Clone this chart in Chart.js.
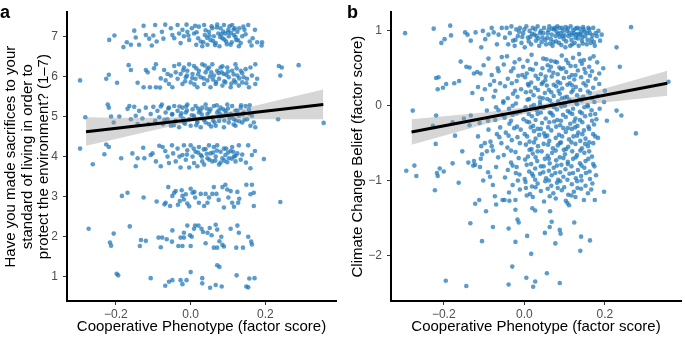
<!DOCTYPE html>
<html>
<head>
<meta charset="utf-8">
<script src="https://cdn.jsdelivr.net/npm/chart.js@4.4.1/dist/chart.umd.min.js"></script>
<style>
html, body { margin: 0; padding: 0; background: #fff; }
#wrap { position: relative; width: 685px; height: 339px; overflow: hidden; }
.panel { position: absolute; top: 0; height: 339px; }
#pa { left: 0; width: 342px; }
#pb { left: 342px; width: 343px; }
.tag { position: absolute; top: 3px; font: bold 18px/18px "Liberation Sans", Arial, sans-serif; color: #000; }
</style>
</head>
<body>
<div id="wrap">
  <div class="panel" id="pa"><canvas id="chartA"></canvas></div>
  <div class="panel" id="pb"><canvas id="chartB"></canvas></div>
  <div class="tag" style="left:0px">a</div>
  <div class="tag" style="left:347px">b</div>
</div>
<script>
// ---- panel a: sacrifice rating (1-7, jittered) vs phenotype ----
const sac7 = [[-0.218,6.91],[-0.204,7.02],[-0.18,6.73],[-0.171,6.85],[-0.16,6.79],[-0.151,7.14],[-0.147,6.97],[-0.138,6.79],[-0.126,7.26],[-0.12,7.03],[-0.111,6.94],[-0.104,6.77],[-0.1,7.02],[-0.095,7.28],[-0.091,6.87],[-0.077,7.11],[-0.073,6.94],[-0.068,7.29],[-0.053,7.2],[-0.049,7.03],[-0.044,6.95],[-0.035,7.28],[-0.031,7.07],[-0.027,6.83],[-0.022,7.16],[-0.018,7.0],[-0.011,7.29],[-0.009,7.11],[-0.004,6.91],[0.003,7.2],[0.009,7.07],[0.012,7.26],[0.015,6.79],[0.022,7.24],[0.027,6.87],[0.031,6.75],[0.036,7.28],[0.038,7.03],[0.045,6.79],[0.049,7.11],[0.053,6.91],[0.058,7.2],[0.062,7.0],[0.067,6.83],[0.071,7.29],[0.074,7.07],[0.077,6.75],[0.08,7.2],[0.085,6.95],[0.089,7.28],[0.092,7.07],[0.095,6.87],[0.101,7.16],[0.102,7.0],[0.107,6.79],[0.111,7.28],[0.116,7.03],[0.118,7.2],[0.122,6.91],[0.125,7.11],[0.129,6.75],[0.134,6.83],[0.138,7.0],[0.144,7.16],[0.147,7.05],[0.154,7.28],[0.158,6.87],[0.163,6.77],[0.166,6.95],[0.172,7.16],[0.178,6.85],[0.191,6.85],[0.19,6.77],[0.04,7.15],[0.06,6.88],[0.07,7.22],[0.09,6.92],[0.1,7.1],[0.12,6.98],[0.082,7.05],[0.05,7.02],[0.11,6.85],[0.13,7.2],[0.02,6.95],[0.104,7.25],[0.065,6.78],[0.087,7.12],[0.115,7.17],
  [0.034,6.85],[0.056,7.25],[0.079,6.98],[0.097,6.8],[0.108,7.08],[0.127,6.9],[0.141,7.24],[0.016,7.1],[-0.006,7.02],[0.044,6.96]];
const sac6 = [[-0.296,5.9],[-0.226,5.94],[-0.219,6.04],[-0.197,5.84],[-0.166,6.28],[-0.16,6.16],[-0.142,5.84],[-0.126,5.73],[-0.12,6.16],[-0.115,6.1],[-0.109,5.73],[-0.098,6.2],[-0.093,6.3],[-0.093,5.73],[-0.082,5.72],[-0.08,5.95],[-0.071,6.16],[-0.067,5.9],[-0.062,6.06],[-0.058,5.81],[-0.053,6.02],[-0.049,5.73],[-0.044,6.26],[-0.04,6.1],[-0.035,5.94],[-0.031,6.3],[-0.027,6.06],[-0.022,5.81],[-0.018,6.22],[-0.013,5.98],[-0.009,6.14],[-0.004,6.3],[0,5.85],[0.005,6.06],[0.009,6.26],[0.013,5.94],[0.018,5.73],[0.022,6.14],[0.027,5.98],[0.031,6.3],[0.036,5.81],[0.04,6.1],[0.045,5.9],[0.049,6.22],[0.053,5.73],[0.058,6.3],[0.062,6.02],[0.067,5.81],[0.071,6.14],[0.076,5.94],[0.08,6.22],[0.085,5.77],[0.089,6.06],[0.093,5.85],[0.098,6.22],[0.102,5.98],[0.107,5.73],[0.111,6.14],[0.116,5.9],[0.12,6.3],[0.125,6.02],[0.129,5.77],[0.134,6.14],[0.138,5.85],[0.142,5.98],[0.147,6.18],[0.151,5.94],[0.156,5.73],[0.16,6.22],[0.164,6.02],[0.173,6.3],[0.178,5.94],[0.173,5.81],[0.236,6.26],[0.244,6.22],[0.24,6.02],[0.289,6.28],[0.02,6.05],[0.045,6.18],[0.06,5.92],[0.075,6.08],[0.09,5.88],[0.1,6.12],[0.115,6.05],[0.13,5.95],[0.01,5.8],[-0.01,6.02],[0.035,5.95],[0.085,6.25],[0.055,6.1],[0.12,5.85],[-0.02,6.15],
  [0.015,6.2],[0.038,6.27],[0.052,6.0],[0.068,5.86],[0.083,6.1],[0.096,6.04],[0.109,5.82],[0.123,6.2],[0.138,6.08],[0.149,5.83],[-0.015,5.88],[0.004,5.96]];
const sac5 = [[-0.282,4.98],[-0.222,5.3],[-0.219,5.22],[-0.213,5.0],[-0.206,4.85],[-0.191,5.0],[-0.169,5.19],[-0.164,5.26],[-0.16,4.93],[-0.151,5.24],[-0.147,5.02],[-0.142,4.81],[-0.138,5.14],[-0.129,4.95],[-0.12,5.22],[-0.113,4.81],[-0.107,5.06],[-0.1,5.24],[-0.095,4.89],[-0.089,5.14],[-0.084,4.98],[-0.077,5.3],[-0.074,4.81],[-0.067,5.1],[-0.062,4.93],[-0.058,5.22],[-0.053,4.77],[-0.049,5.06],[-0.044,5.26],[-0.04,4.89],[-0.035,5.14],[-0.031,4.73],[-0.027,5.02],[-0.022,5.22],[-0.018,4.85],[-0.013,5.1],[-0.009,5.3],[-0.004,4.93],[0,4.77],[0.005,5.18],[0.009,5.02],[0.013,5.26],[0.018,4.85],[0.022,5.1],[0.027,4.73],[0.031,5.22],[0.036,4.93],[0.04,5.3],[0.045,5.06],[0.049,4.81],[0.053,5.18],[0.058,4.98],[0.062,5.26],[0.067,4.77],[0.071,5.1],[0.076,4.89],[0.08,5.22],[0.085,5.02],[0.089,4.73],[0.093,5.14],[0.098,5.3],[0.102,4.85],[0.107,5.06],[0.111,5.26],[0.116,4.93],[0.12,4.77],[0.125,5.14],[0.129,5.02],[0.134,5.22],[0.138,4.85],[0.142,5.1],[0.147,5.26],[0.151,4.93],[0.156,5.18],[0.16,4.77],[0.164,5.02],[0.169,4.85],[0.173,4.73],[0.234,4.93],[0.356,4.84],[0.01,4.95],[0.02,5.2],[0.03,5.05],[0.04,4.85],[0.05,5.12],[0.06,4.9],[0.07,5.28],[0.08,5.0],[0.09,4.9],[0.1,5.2],[0.11,5.0],[0.12,5.15],[0.13,4.88],[0.14,5.05],[-0.01,5.15],[-0.02,4.95],[-0.03,5.25],[-0.04,4.88],[-0.05,5.05],[-0.06,5.2],[-0.07,4.92],[-0.08,5.25],[0.015,4.78],[0.055,4.75],[0.095,5.08],[0.115,4.8],[0.135,5.28],[0.075,5.15],[0.035,4.92],[-0.015,4.82],
  [0.003,5.03],[0.017,4.9],[0.026,5.14],[0.043,5.2],[0.064,4.85],[0.078,5.06],[0.087,5.18],[0.104,4.95],[0.121,4.9],[0.144,4.92],[0.157,5.07],[-0.025,5.08],[-0.045,4.78],[-0.012,5.25],[0.158,5.28]];
const sac4 = [[-0.296,4.2],[-0.262,3.81],[-0.231,4.06],[-0.226,4.3],[-0.219,4.24],[-0.186,3.96],[-0.156,4.08],[-0.147,3.76],[-0.142,3.96],[-0.127,4.22],[-0.124,3.96],[-0.107,4.04],[-0.102,4.08],[-0.093,3.88],[-0.084,4.27],[-0.08,3.76],[-0.075,4.24],[-0.068,4.14],[-0.062,4.0],[-0.058,3.84],[-0.05,4.28],[-0.047,4.08],[-0.04,3.88],[-0.035,4.2],[-0.027,3.73],[-0.022,4.04],[-0.018,4.28],[-0.013,3.92],[-0.009,4.16],[-0.004,3.73],[0,4.28],[0.005,4.0],[0.009,3.84],[0.013,4.12],[0.018,3.76],[0.022,4.24],[0.027,4.04],[0.031,3.88],[0.036,3.8],[0.04,4.19],[0.045,3.96],[0.049,4.28],[0.053,4.08],[0.058,3.88],[0.062,4.24],[0.067,4.0],[0.071,4.28],[0.076,3.8],[0.08,4.12],[0.085,3.96],[0.089,4.2],[0.093,4.04],[0.098,3.86],[0.102,3.96],[0.107,4.14],[0.111,4.24],[0.116,4.0],[0.12,3.88],[0.125,4.08],[0.129,4.28],[0.134,3.92],[0.154,4.28],[0.16,3.71],[0.164,4.04],[0.172,4.14],[0.196,3.94],[0.02,4.1],[0.05,3.92],[0.07,4.15],[0.09,3.9],[0.1,4.1],[0.12,4.02],[0.06,4.1],[0.08,3.85],[0.11,3.95],[0.03,4.0],[-0.01,4.05],[0.035,4.18],
  [0.008,4.2],[0.043,4.07],[0.066,3.9],[0.095,4.2],[0.114,4.12],[0.138,4.05],[0.148,3.85],[-0.03,4.0]];
const sac3 = [[-0.184,3.02],[-0.169,3.1],[-0.126,2.98],[-0.091,2.88],[-0.07,2.81],[-0.067,2.85],[-0.06,3.24],[-0.055,2.77],[-0.049,3.02],[-0.044,3.1],[-0.04,3.14],[-0.034,2.8],[-0.029,2.89],[-0.024,3.16],[-0.022,3.02],[-0.018,2.93],[-0.013,3.06],[-0.009,2.83],[-0.004,2.76],[0,3.2],[0.005,3.1],[0.012,2.98],[0.022,2.85],[0.027,3.07],[0.036,2.77],[0.04,3.07],[0.045,2.85],[0.049,2.98],[0.058,3.07],[0.062,3.24],[0.069,3.07],[0.085,3.24],[0.089,2.73],[0.093,3.3],[0.098,3.18],[0.101,2.98],[0.107,3.14],[0.111,2.85],[0.116,2.75],[0.125,3.12],[0.127,2.85],[0.149,3.3],[0.16,3.06],[0.164,3.3],[0.169,3.1],[0.169,2.77],[0.24,2.87],[0.075,2.92],[0.13,2.95],[0.01,3.12]];
const sac2 = [[-0.273,2.2],[-0.213,1.78],[-0.206,2.08],[-0.216,1.86],[-0.163,2.26],[-0.136,1.77],[-0.133,1.92],[-0.12,1.9],[-0.086,1.98],[-0.08,1.74],[-0.076,1.98],[-0.064,1.94],[-0.05,1.88],[-0.049,2.16],[-0.033,1.77],[-0.027,1.98],[-0.022,1.77],[-0.018,2.1],[-0.018,1.98],[-0.009,2.28],[-0.002,2.04],[0,1.77],[0.003,2.0],[0.009,2.2],[0.012,2.28],[0.021,2.28],[0.029,2.2],[0.033,2.12],[0.04,1.84],[0.045,2.1],[0.051,2.22],[0.056,2.04],[0.062,1.73],[0.067,2.3],[0.071,2.18],[0.071,1.73],[0.077,1.89],[0.082,2.0],[0.085,1.8],[0.089,1.76],[0.107,2.2],[0.122,1.73],[0.125,2.28],[0.129,2.1],[0.14,1.73],[0.154,2.0],[0.162,1.88],[0.164,1.81]];
const sac1 = [[-0.198,1.08],[-0.194,1.04],[-0.107,0.97],[-0.068,0.78],[-0.058,0.88],[-0.049,0.92],[-0.027,0.92],[-0.022,0.82],[-0.011,0.92],[0,1.12],[0.031,0.97],[0.031,0.84],[0.052,0.73],[0.067,0.8],[0.071,1.29],[0.077,1.25],[0.083,0.76],[0.123,1.04],[0.149,0.76],[0.154,0.74],[0.157,0.96],[0.171,0.97]];

// fitted line and 95% band, panel a
const fitAX = [-0.28, 0.355];
const fitAY = [4.62, 5.30];
const bandAX = [-0.28, -0.2, -0.1, 0, 0.05, 0.15, 0.25, 0.355];
const bandAUp = [4.98, 4.97, 4.97, 4.98, 5.03, 5.22, 5.44, 5.67];
const bandALo = [4.27, 4.44, 4.66, 4.86, 4.92, 4.93, 4.93, 4.93];

// ---- panel b: climate change belief vs phenotype ----
const beliefTop = [[-0.296,0.97],[-0.225,1.03],[-0.184,1.07],[-0.206,0.84],[-0.198,0.89],[-0.182,0.94],[-0.147,0.98],[-0.141,0.95],[-0.133,0.87],[-0.121,0.98],[-0.107,0.78],[-0.103,1.0],[-0.097,0.89],[-0.089,0.95],[-0.081,1.04],[-0.076,0.98],[-0.068,0.82],[-0.064,0.95],[-0.056,1.04],
  [-0.048,0.91],[-0.044,1.04],[-0.04,0.82],[-0.036,0.97],[-0.032,1.06],[-0.028,0.87],[-0.024,0.8],[-0.02,1.02],[-0.016,0.93],[-0.011,1.04],[-0.007,0.84],[-0.003,0.97],[0.001,0.78],[0.005,1.06],[0.009,0.91],[0.013,1.0],[0.017,0.82],[0.021,1.04],[0.025,0.95],[0.029,0.87],[0.033,1.06],[0.037,0.8],[0.041,1.0],[0.045,0.91],[0.049,1.04],[0.054,0.82],[0.058,0.97],[0.062,1.06],[0.066,0.89],[0.07,0.8],[0.074,1.02],[0.078,0.93],[0.082,1.06],[0.086,0.84],[0.09,0.97],[0.094,1.04],[0.098,0.89],[0.102,0.78],[0.106,1.0],[0.11,0.93],[0.115,1.06],[0.119,0.82],[0.123,0.97],[0.127,0.91],[0.131,1.04],[0.135,0.8],[0.139,0.95],[0.143,0.87],[0.147,1.02],[0.151,0.93],[0.155,0.82],[0.159,1.04],[0.163,0.97],[0.167,0.89],[0.171,1.04],[0.175,0.8],[0.18,0.93],[0.184,1.0],[0.188,0.87],[0.192,0.95],
  [0.052,0.88],[0.06,1.01],[0.068,0.95],[0.072,0.85],[0.08,0.99],[0.088,0.92],[0.092,0.81],[0.096,1.0],[0.1,0.94],[0.104,0.86],[0.108,1.03],[0.112,0.97],[0.117,0.88],[0.121,1.01],[0.125,0.84],[0.129,0.95],[0.133,0.9],[0.137,1.03],[0.141,0.98],[0.145,0.83],[0.15,0.99],[0.157,0.88],[0.161,1.02],[0.169,0.94],[0.173,0.85],[0.011,0.86],[0.019,0.96],[0.027,1.02],[0.035,0.9],[0.043,0.85],[-0.005,0.92],[-0.013,0.99],[-0.022,0.88],[0.047,0.97],[0.064,0.83],[0.076,1.04],[0.084,0.96],[0.114,0.8],
  [0.03,0.93],[0.057,0.91],[0.079,0.86],[0.095,0.93],[0.118,0.95],[0.134,0.96],[0.144,0.92],[0.156,0.97],[0.165,0.84],[0.177,0.97],[0.0,1.02],[0.015,0.92],[0.039,0.97],[0.103,1.05],[0.127,1.03],[0.146,1.05],[0.069,1.03],[0.087,1.04],
  [0.229,0.78],[0.265,1.05]];
const beliefMidSparse = [[-0.219,0.37],[-0.213,0.38],[-0.215,0.22],[-0.202,0.24],[-0.194,0.29],[-0.174,0.3],[-0.162,0.33],[-0.158,0.59],[-0.144,0.52],[-0.136,0.51],[-0.129,0.17],[-0.125,0.43],[-0.117,0.45],[-0.115,0.25],[-0.109,0.43],[-0.105,0.09],[-0.101,0.54],[-0.098,0.22],[-0.089,0.63],[-0.081,0.41],[-0.076,0.12],[-0.072,0.2],[-0.064,0.46],[-0.06,0.3],[-0.056,0.65],[-0.052,0.04],
  [-0.277,-0.065],[-0.219,-0.13],[-0.227,-0.27],[-0.178,-0.22],[-0.172,-0.4],[-0.22,-0.51],[-0.154,-0.61],[-0.15,-0.17],[-0.136,-0.26],[-0.133,-0.13],[-0.115,-0.41],[-0.111,-0.23],[-0.107,-0.54],[-0.105,-0.65],[-0.093,-0.065],[-0.089,-0.32],[-0.084,-0.48],[-0.081,-0.54],[-0.072,-0.19],[-0.068,-0.38],[-0.064,-0.06],[-0.06,-0.29],[-0.057,-0.5],[-0.055,-0.12],[-0.108,-0.71],[-0.098,-0.5],[-0.093,-0.61],
  [-0.075,0.33],[-0.07,-0.02],[-0.085,0.28],[-0.062,-0.42],[-0.078,-0.6],[-0.066,0.5],[-0.09,-0.2],
  [0.196,0.5],[0.237,0.52],[0.229,-0.065],[0.241,-0.13],[0.277,-0.37],[0.358,0.32],[0.2,0.2],[0.205,-0.2],[0.198,0.05]];
const beliefMidCore = [[-0.043,0.66],[-0.012,0.62],[0.018,0.68],[0.047,0.63],[0.066,0.6],[0.093,0.67],[0.121,0.64],[0.148,0.61],[0.172,0.66],[0.136,0.69],
  [-0.051,0.55],[-0.024,0.58],[-0.003,0.52],[0.029,0.56],[0.058,0.54],[0.076,0.59],[0.087,0.51],[0.109,0.57],[0.127,0.53],[0.143,0.56],[0.161,0.52],[0.181,0.58],[0.045,0.5],
  [-0.033,0.46],[0.006,0.43],[0.021,0.48],[0.041,0.42],[0.062,0.47],[0.072,0.44],[0.091,0.49],[0.104,0.45],[0.118,0.41],[0.133,0.47],[0.152,0.44],[0.168,0.46],[0.186,0.43],[-0.015,0.4],
  [-0.041,0.36],[-0.019,0.33],[0.002,0.38],[0.017,0.31],[0.034,0.36],[0.052,0.34],[0.068,0.39],[0.083,0.32],[0.098,0.37],[0.113,0.3],[0.124,0.35],[0.141,0.38],[0.158,0.33],[0.177,0.36],
  [-0.048,0.26],[-0.008,0.22],[0.011,0.27],[0.027,0.24],[0.043,0.29],[0.061,0.21],[0.079,0.26],[0.094,0.23],[0.107,0.28],[0.128,0.25],[0.139,0.21],[0.153,0.27],[0.171,0.24],[0.056,0.27],
  [-0.028,0.16],[-0.017,0.12],[0.004,0.18],[0.023,0.14],[0.038,0.11],[0.051,0.17],[0.073,0.13],[0.088,0.16],[0.101,0.11],[0.117,0.18],[0.131,0.14],[0.146,0.12],[0.163,0.17],[0.182,0.13],
  [-0.052,0.06],[-0.021,0.03],[0.008,0.08],[0.024,0.01],[0.039,0.05],[0.057,0.09],[0.069,0.02],[0.084,0.06],[0.099,0.03],[0.112,0.08],[0.129,0.04],[0.142,0.07],[0.157,0.01],[0.174,0.05],
  [-0.038,-0.04],[-0.011,-0.08],[0.003,-0.02],[0.031,-0.06],[0.048,-0.03],[0.063,-0.09],[0.081,-0.05],[0.092,-0.01],[0.108,-0.07],[0.121,-0.04],[0.138,-0.08],[0.149,-0.02],[0.167,-0.06],[0.187,-0.04],
  [-0.049,-0.16],[-0.029,-0.12],[-0.002,-0.18],[0.019,-0.14],[0.033,-0.11],[0.053,-0.17],[0.071,-0.13],[0.082,-0.19],[0.103,-0.15],[0.119,-0.11],[0.127,-0.17],[0.151,-0.14],[0.164,-0.12],[0.179,-0.18],
  [-0.037,-0.24],[-0.018,-0.28],[0.012,-0.22],[0.022,-0.27],[0.044,-0.23],[0.059,-0.29],[0.074,-0.21],[0.089,-0.26],[0.097,-0.3],[0.114,-0.24],[0.132,-0.27],[0.144,-0.22],[0.159,-0.28],[0.173,-0.25],
  [-0.046,-0.36],[-0.009,-0.32],[0.001,-0.38],[0.024,-0.34],[0.041,-0.31],[0.049,-0.37],[0.067,-0.33],[0.086,-0.39],[0.103,-0.35],[0.118,-0.31],[0.134,-0.36],[0.148,-0.33],[0.171,-0.38],
  [-0.031,-0.46],[-0.017,-0.42],[0.013,-0.48],[0.028,-0.44],[0.052,-0.41],[0.062,-0.47],[0.078,-0.43],[0.091,-0.49],[0.111,-0.45],[0.122,-0.41],[0.139,-0.47],[0.152,-0.44],[0.161,-0.49],[0.183,-0.43],
  [-0.042,-0.56],[0.004,-0.52],[0.018,-0.58],[0.034,-0.54],[0.048,-0.51],[0.071,-0.57],[0.083,-0.53],[0.098,-0.59],[0.109,-0.55],[0.127,-0.51],[0.143,-0.57],[0.158,-0.54],
  [-0.051,-0.66],[-0.022,-0.62],[0.009,-0.68],[0.021,-0.64],[0.043,-0.61],[0.058,-0.67],[0.069,-0.63],[0.088,-0.69],[0.101,-0.65],[0.119,-0.61],[0.131,-0.66],[0.149,-0.63],[0.168,-0.68],
  [0.008,0.6],[0.055,0.62],[0.081,0.58],[0.104,0.61],[0.139,0.6],[0.163,0.63],
  [-0.027,0.5],[0.014,0.49],[0.066,0.52],[0.097,0.5],[0.115,0.53],[0.149,0.49],
  [-0.005,0.41],[0.028,0.4],[0.053,0.39],[0.083,0.42],[0.111,0.38],[0.127,0.41],[0.163,0.4],
  [-0.031,0.3],[0.009,0.29],[0.046,0.31],[0.073,0.28],[0.089,0.3],[0.119,0.27],[0.147,0.3],[0.186,0.29],
  [-0.023,0.2],[0.016,0.19],[0.034,0.21],[0.067,0.18],[0.085,0.2],[0.121,0.21],[0.158,0.19],
  [-0.041,0.1],[0.012,0.09],[0.046,0.1],[0.064,0.07],[0.093,0.1],[0.106,0.12],[0.137,0.09],[0.168,0.1],
  [-0.029,0.0],[0.017,-0.01],[0.039,0.01],[0.074,-0.02],[0.101,0.0],[0.131,0.02],[0.158,-0.01],
  [-0.019,-0.1],[0.011,-0.11],[0.041,-0.09],[0.067,-0.1],[0.096,-0.12],[0.113,-0.09],[0.143,-0.1],[0.176,-0.11],
  [-0.033,-0.2],[0.006,-0.21],[0.028,-0.19],[0.062,-0.22],[0.091,-0.2],[0.124,-0.21],[0.138,-0.19],[0.168,-0.2],
  [-0.025,-0.3],[0.016,-0.29],[0.033,-0.31],[0.079,-0.28],[0.108,-0.3],[0.126,-0.29],[0.161,-0.31],
  [-0.039,-0.4],[0.007,-0.41],[0.037,-0.39],[0.057,-0.4],[0.094,-0.41],[0.131,-0.4],[0.144,-0.38],[0.176,-0.41],
  [-0.011,-0.5],[0.024,-0.49],[0.059,-0.52],[0.088,-0.5],[0.117,-0.49],[0.151,-0.51],[0.171,-0.5],
  [-0.033,-0.6],[0.013,-0.59],[0.033,-0.61],[0.078,-0.6],[0.104,-0.58],[0.139,-0.6],[0.161,-0.61]];
const beliefLowCore = [[-0.033,-0.76],[0.002,-0.72],[0.017,-0.78],[0.032,-0.74],[0.051,-0.71],[0.063,-0.77],[0.079,-0.73],[0.092,-0.79],[0.108,-0.75],[0.121,-0.71],[0.138,-0.77],[0.152,-0.74],[0.171,-0.78],
  [-0.041,-0.86],[-0.019,-0.82],[0.012,-0.88],[0.027,-0.84],[0.041,-0.81],[0.061,-0.87],[0.073,-0.83],[0.089,-0.89],[0.102,-0.85],[0.117,-0.81],[0.133,-0.86],[0.149,-0.83],[0.162,-0.88],
  [-0.048,-0.96],[-0.012,-0.92],[0.001,-0.98],[0.022,-0.94],[0.039,-0.91],[0.054,-0.97],[0.068,-0.93],[0.084,-0.99],[0.097,-0.95],[0.112,-0.91],[0.128,-0.97],[0.141,-0.94],[0.163,-0.98],[0.178,-0.93],
  [-0.029,-1.06],[0.003,-1.02],[0.019,-1.08],[0.033,-1.04],[0.052,-1.01],[0.067,-1.07],[0.081,-1.03],[0.099,-1.09],[0.118,-1.05],[0.131,-1.01],[0.152,-1.07],[0.169,-1.04],
  [-0.038,-1.16],[-0.011,-1.12],[0.014,-1.18],[0.041,-1.14],[0.058,-1.11],[0.072,-1.17],[0.093,-1.13],[0.109,-1.19],[0.123,-1.15],[0.141,-1.11],[0.158,-1.17],
  [-0.022,-1.26],[0.021,-1.22],[0.049,-1.28],[0.078,-1.24],[0.103,-1.27],[0.127,-1.22],[0.148,-1.26],
  [-0.049,-1.26],[-0.037,-1.27],[-0.022,-1.39],[0.02,-1.37],[0.027,-1.4],[0.064,-1.41],[0.107,-1.3],[0.111,-1.33],
  [-0.014,-0.7],[0.028,-0.69],[0.061,-0.71],[0.097,-0.7],[0.128,-0.69],[0.159,-0.71],
  [-0.029,-0.8],[0.006,-0.79],[0.048,-0.81],[0.081,-0.8],[0.108,-0.78],[0.142,-0.8],[0.174,-0.81],
  [-0.021,-0.9],[0.019,-0.91],[0.047,-0.89],[0.077,-0.9],[0.121,-0.9],[0.153,-0.9],
  [-0.016,-1.0],[0.027,-0.99],[0.061,-1.0],[0.089,-1.01],[0.107,-0.99],[0.142,-1.0],
  [0.004,-1.1],[0.028,-1.09],[0.083,-1.1],[0.132,-1.1],[0.166,-1.12],
  [0.006,-1.2],[0.063,-1.21],[0.117,-1.2]];
const beliefLowSparse = [[-0.293,-0.87],[-0.273,-0.8],[-0.268,-0.94],[-0.222,-1.13],[-0.217,-0.9],[-0.215,-0.94],[-0.21,-0.84],[-0.2,-0.88],[-0.178,-0.77],[-0.163,-1.03],[-0.139,-0.76],[-0.127,-0.8],[-0.134,-1.57],[-0.125,-0.74],[-0.122,-0.79],[-0.122,-1.31],[-0.112,-1.26],[-0.105,-1.81],[-0.095,-1.41],[-0.078,-1.62],[-0.195,-2.34],[-0.144,-2.41],
  [-0.09,-0.89],[-0.085,-0.95],[-0.078,-1.06],[-0.073,-1.21],[-0.07,-1.32],[-0.054,-1.26],[-0.102,-1.0],[-0.07,-0.82],[-0.11,-0.82],[-0.065,-0.69],
  [-0.039,-1.64],[-0.017,-1.52],[-0.014,-1.56],[-0.022,-1.82],[0.007,-1.74],[0.017,-1.98],[-0.03,-2.15],[-0.039,-2.39],[0.005,-2.3],[0.027,-2.35],[0.022,-2.42],[0.056,-2.24],[0.088,-2.37],[0.051,-1.7],[0.063,-1.62],[0.068,-1.55],[0.077,-1.84],[0.088,-1.66],[0.09,-1.71],[0.124,-1.56],[0.141,-1.75],[0.139,-1.94],[0.163,-1.8],[0.175,-1.26],[0.198,-1.15]];

// fitted line and 95% band, panel b
const fitBX = [-0.28, 0.355];
const fitBY = [-0.35, 0.30];
const bandBX = [-0.28, -0.2, -0.1, 0, 0.05, 0.15, 0.25, 0.355];
const bandBUp = [-0.18, -0.14, -0.09, -0.02, 0.026, 0.158, 0.306, 0.468];
const bandBLo = [-0.52, -0.40, -0.25, -0.11, -0.054, 0.018, 0.074, 0.132];

const xTicks = [-0.2, 0, 0.2];
const yTicksA = [1, 2, 3, 4, 5, 6, 7];
const yTicksB = [-2, -1, 0, 1];

const FONT = '"Liberation Sans", Arial, sans-serif';
const DOT = 'rgba(28,118,184,0.72)';

function toXY(xs, ys) {
    return xs.map((x, i) => ({ x: x, y: ys[i] }));
}
function pairs(list) {
    return list.map(p => ({ x: p[0], y: p[1] }));
}
function fmtTick(v, digits) {
    const s = Math.abs(v).toFixed(digits);
    return v < 0 ? '\u2212' + s : s;
}

function makeChart(id, opt) {
    const tickStyle = { font: { family: FONT, size: 12 }, color: '#4d4d4d', autoSkip: false, maxRotation: 0 };
    return new Chart(document.getElementById(id), {
        type: 'scatter',
        data: {
            datasets: [
                { data: opt.fit, showLine: true, borderColor: '#000', borderWidth: 3, pointRadius: 0, order: 0 },
                { data: opt.bandUp, showLine: true, borderWidth: 0, borderColor: 'rgba(0,0,0,0)', pointRadius: 0,
                  fill: '+1', backgroundColor: 'rgba(153,153,153,0.4)', order: 1 },
                { data: opt.bandLo, showLine: true, borderWidth: 0, borderColor: 'rgba(0,0,0,0)', pointRadius: 0, fill: false, order: 1 },
                { data: opt.points, pointRadius: 2.3, pointBorderWidth: 0, pointBackgroundColor: DOT, order: 2 }
            ]
        },
        options: {
            responsive: true,
            maintainAspectRatio: false,
            animation: false,
            layout: { padding: { top: 4, right: opt.padRight, left: 0, bottom: 0 } },
            plugins: { legend: { display: false }, tooltip: { enabled: false } },
            scales: {
                x: {
                    type: 'linear', min: -0.331, max: 0.389,
                    afterBuildTicks: s => { s.ticks = xTicks.map(v => ({ value: v })); },
                    afterFit: s => { s.height = 38; },
                    ticks: Object.assign({ padding: 2, callback: v => fmtTick(v, 1) }, tickStyle),
                    grid: { display: true, drawOnChartArea: false, drawTicks: true, tickLength: 4, tickColor: '#333', tickWidth: 1 },
                    border: { display: true, color: '#000', width: 2 },
                    title: { display: true, text: 'Cooperative Phenotype (factor score)', color: '#000',
                             font: { family: FONT, size: 15, lineHeight: 1.1 }, padding: { top: 0, bottom: 4 } }
                },
                y: {
                    type: 'linear', min: opt.yMin, max: opt.yMax,
                    afterBuildTicks: s => { s.ticks = opt.yTicks.map(v => ({ value: v })); },
                    afterFit: s => { s.width = opt.yWidth; },
                    ticks: Object.assign({ padding: 5, callback: v => fmtTick(v, 0) }, tickStyle),
                    grid: { display: true, drawOnChartArea: false, drawTicks: true, tickLength: 4, tickColor: '#333', tickWidth: 1 },
                    border: { display: true, color: '#000', width: 2 },
                    title: { display: true, text: opt.yTitle, color: '#000',
                             font: { family: FONT, size: 15, lineHeight: 1.1 }, padding: { top: opt.titlePad, bottom: 0 } }
                }
            }
        }
    });
}

makeChart('chartA', {
    points: pairs([].concat(sac7, sac6, sac5, sac4, sac3, sac2, sac1)),
    fit: toXY(fitAX, fitAY),
    bandUp: toXY(bandAX, bandAUp),
    bandLo: toXY(bandAX, bandALo),
    yMin: 0.4, yMax: 7.6, yTicks: yTicksA, yWidth: 67, padRight: 6, titlePad: 3,
    yTitle: ['Have you made sacrifices to your', 'standard of living in order to', 'protect the environment? (1\u20137)']
});

makeChart('chartB', {
    points: pairs([].concat(beliefTop, beliefMidSparse, beliefMidCore, beliefLowCore, beliefLowSparse)),
    fit: toXY(fitBX, fitBY),
    bandUp: toXY(bandBX, bandBUp),
    bandLo: toXY(bandBX, bandBLo),
    yMin: -2.61, yMax: 1.25, yTicks: yTicksB, yWidth: 49, padRight: 0, titlePad: 8,
    yTitle: 'Climate Change Belief (factor score)'
});
</script>
</body>
</html>
